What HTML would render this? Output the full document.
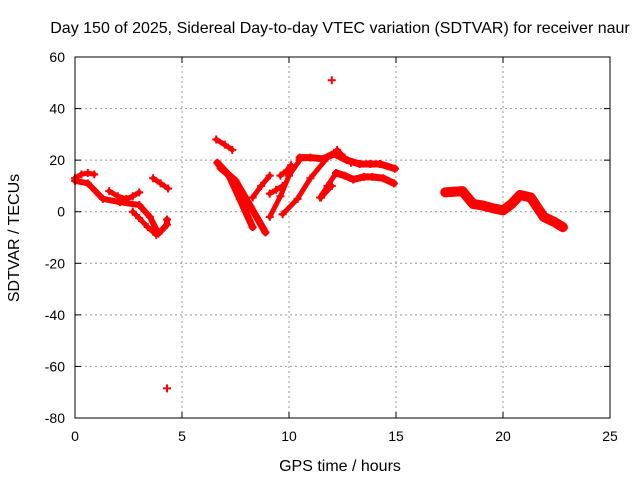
<!DOCTYPE html>
<html><head><meta charset="utf-8"><style>
body{margin:0;background:#fff}
svg{display:block;font-family:"Liberation Sans",sans-serif}
</style></head><body>
<svg id="chart" width="640" height="480">
<text x="340" y="33" font-size="16" text-anchor="middle">Day 150 of 2025, Sidereal Day-to-day VTEC variation (SDTVAR) for receiver naur</text>
<text x="340" y="471" font-size="16" text-anchor="middle">GPS time / hours</text>
<text transform="translate(19,238) rotate(-90)" font-size="16" text-anchor="middle">SDTVAR / TECUs</text>
<g id="grid"></g><g id="ticks"></g><g id="marks"></g>
<rect x="75" y="57" width="535" height="361" fill="none" stroke="#000"/>
</svg>
<script>
const xTicks=[0,5,10,15,20,25];
const yTicks=[60,40,20,0,-20,-40,-60,-80];
// tracks: arrays of [hour, value]
const track1=[[0,13],[0.3,14.5],[0.6,15],[0.9,14.5]];
const track2=[[0,12],[0.6,11],[1.3,5],[2.1,3.7],[3.0,2.6],[3.5,-2],[3.9,-8.5],[4.3,-5],[4.3,-3]];
const track3=[[2.7,0],[3.0,-2.5],[3.4,-6],[3.8,-9]];
const track4=[[1.6,8],[2.0,6],[2.4,5],[2.7,6],[3.0,7.5]];
const track5=[[3.65,13],[4.0,11],[4.35,9]];
const track6=[[6.6,28],[7.0,26],[7.35,24]];
const track7=[[6.65,19],[7.2,14],[7.7,5],[8.3,-6]];
const track8=[[6.8,17],[7.5,12],[8.2,2],[8.9,-8]];
const track9=[[9.1,-2],[9.6,6],[10.0,14],[10.5,20]];
const track10=[[9.7,-1],[10.4,5],[11.0,13],[11.8,21]];
const track11=[[11.45,5.5],[11.8,10],[12.2,15]];
const track12=[[8.3,5.5],[8.7,10],[9.1,14]];
const track13=[[9.1,7],[9.4,8.5],[9.7,10]];
const track14=[[9.6,14],[9.9,16],[10.1,18]];
const track15=[[10.5,21],[11.0,21],[11.6,20.5],[12.1,22.5],[12.7,20],[13.3,18.5],[13.8,18.5],[14.25,18.5],[14.95,16.7]];
const track16=[[12.2,15],[12.6,14],[13.0,12.5],[13.5,13.5],[13.9,13.5],[14.4,13],[14.9,11]];
const track17=[[12.25,24],[12.6,21],[12.9,19]];
const track18=[[11.5,5.5],[12.0,10]];
const track19=[[17.3,7.5],[18.1,8],[18.6,3],[19.0,2.5],[19.5,1.4],[20.0,0.5],[20.4,3],[20.8,6.5],[21.3,5.5],[21.9,-2],[22.4,-4],[22.8,-6]];
const outliers=[[12,51],[4.3,-68.5]];
const tracks=[track1,track2,track3,track4,track5,track6,track7,track8,track9,track10,track11,track12,track13,track14,track15,track16,track17,track18,track19];
const widths=[5,6,5,5,5,5,7,7,5,5,5,5,5,5,7,7,5,5,10];

const X0=75,X1=610,Y0=418,Y1=57;
const xs=v=>X0+(v-0)/25*(X1-X0);
const ys=v=>Y0-(v+80)/140*(Y0-Y1);
const NS="http://www.w3.org/2000/svg";
function mk(tag,p,attrs){const e=document.createElementNS(NS,tag);for(const k in attrs)e.setAttribute(k,attrs[k]);p.appendChild(e);return e;}
const grid=document.getElementById('grid'),ticks=document.getElementById('ticks'),marks=document.getElementById('marks');
xTicks.forEach(t=>{const x=xs(t);
 if(t>0&&t<25){const g=mk('line',grid,{x1:x,x2:x,y1:Y0,y2:Y1,stroke:'#999','stroke-dasharray':'2,3'});
 
 }
 mk('line',ticks,{x1:x,x2:x,y1:Y0,y2:Y0-6,stroke:'#000'});
 mk('line',ticks,{x1:x,x2:x,y1:Y1,y2:Y1+6,stroke:'#000'});
 const l=mk('text',ticks,{x:x,y:Y0+23,'font-size':14,'text-anchor':'middle'});l.textContent=t;
 
 });
yTicks.forEach(t=>{const y=ys(t);
 if(t>-80&&t<60){const g=mk('line',grid,{x1:X0,x2:X1,y1:y,y2:y,stroke:'#999','stroke-dasharray':'2,3'});
 
 }
 mk('line',ticks,{x1:X0,x2:X0+6,y1:y,y2:y,stroke:'#000'});
 mk('line',ticks,{x1:X1,x2:X1-6,y1:y,y2:y,stroke:'#000'});
 const l=mk('text',ticks,{x:X0-10,y:y+5,'font-size':14,'text-anchor':'end'});l.textContent=t;
 
 });
tracks.forEach((tr,i)=>{
 const p=mk('polyline',marks,{points:tr.map(d=>xs(d[0])+','+ys(d[1])).join(' '),fill:'none',stroke:'#f00','stroke-width':widths[i],'stroke-linejoin':'round','stroke-linecap':'round'});
 
 
 tr.forEach(d=>{const x=xs(d[0]),y=ys(d[1]);
  mk('path',marks,{d:`M${x-4},${y}H${x+4}M${x},${y-4}V${y+4}`,stroke:'#f00','stroke-width':2});});
});
outliers.forEach(d=>{const x=xs(d[0]),y=ys(d[1]);
 const o=mk('path',marks,{d:`M${x-4},${y}H${x+4}M${x},${y-4}V${y+4}`,stroke:'#f00','stroke-width':2});
 
 });
</script>
</body></html>
